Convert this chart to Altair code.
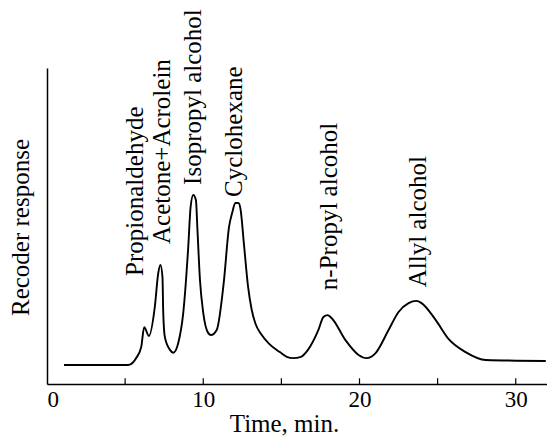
import altair as alt
import pandas as pd

# Chromatogram trace (time in min, response in arbitrary units 0-100)
time = [1.09, 5.20, 5.50, 5.68, 6.03, 6.22, 6.52, 6.90, 7.12, 7.26, 7.39, 7.44, 7.54,
        7.87, 8.08, 8.40, 8.72, 9.04, 9.19, 9.36, 9.53, 9.63, 9.79, 10.00, 10.32, 10.49,
        10.86, 11.31, 11.65, 11.87, 12.05, 12.25, 12.38, 12.62, 12.87, 13.10, 13.35,
        13.70, 14.20, 14.90, 15.35, 15.75, 16.25, 16.70, 17.37, 17.69, 17.95, 18.21, 19.10,
        19.94, 20.45, 21.03, 21.86, 22.50, 23.14, 23.65, 23.97, 24.87, 25.71, 26.79, 28.08,
        31.92]
response = [6.0, 6.0, 6.8, 8.0, 11.7, 18.0, 15.2, 24.4, 35.1, 37.7, 33.9, 22.5, 14.9,
            10.8, 9.9, 13.0, 22.5, 43.4, 56.0, 59.8, 58.2, 48.7, 32.9, 22.5, 16.1, 15.5,
            17.1, 32.0, 49.7, 54.5, 57.3, 57.3, 55.5, 43.4, 30.7, 23.5, 19.0,
            15.8, 12.8, 10.1, 8.6, 8.2, 8.6, 10.8, 17.1, 21.2, 21.8, 20.9, 13.9,
            9.2, 8.2, 9.8, 17.1, 22.8, 25.6, 26.3, 25.6, 20.3, 14.2, 10.1, 7.6,
            7.3]

peak_names = ["Propionaldehyde", "Acetone+Acrolein", "Isopropyl alcohol", "Cyclohexane",
              "n-Propyl alcohol", "Allyl alcohol"]
peak_t = [5.62, 7.34, 9.36, 11.98, 18.05, 23.75]
peak_r = [34.2, 44.3, 63.0, 59.2, 29.7, 30.6]

tick_vals = [5, 10, 15, 20, 25, 30]
label_vals = [0, 10, 20, 30]

FONT = "Liberation Serif"

df = pd.DataFrame({"t": time, "r": response})
labels = pd.DataFrame({"name": peak_names, "t": peak_t, "r": peak_r})
ticks = pd.DataFrame({"t": tick_vals, "y0": [0] * len(tick_vals), "y1": [1.8] * len(tick_vals)})

xscale = alt.Scale(domain=[0, 32], nice=False, zero=False)
yscale = alt.Scale(domain=[0, 100], nice=False)

curve = alt.Chart(df).mark_line(color="black", strokeWidth=1.9, interpolate="monotone").encode(
    x=alt.X("t:Q", scale=xscale,
            axis=alt.Axis(values=label_vals, tickSize=0, grid=False, title="Time, min.",
                          domainColor="black", domainWidth=1.5, labelFont=FONT, labelFontSize=23,
                          labelColor="black", labelPadding=4, titleFont=FONT, titleFontSize=25,
                          titleFontWeight="normal", titleColor="black", titleX=237, titleY=39,
                          titleAlign="center", titleBaseline="middle")),
    y=alt.Y("r:Q", scale=yscale,
            axis=alt.Axis(labels=False, ticks=False, grid=False, title="Recoder response",
                          domainColor="black", domainWidth=1.5, titleFont=FONT, titleFontSize=25,
                          titleFontWeight="normal", titleColor="black", titleAngle=270,
                          titleBaseline="middle", titleAlign="center", titleX=-27, titleY=159)),
)

tickmarks = alt.Chart(ticks).mark_rule(color="black", strokeWidth=1.2).encode(
    x=alt.X("t:Q", scale=xscale), y=alt.Y("y0:Q", scale=yscale), y2="y1:Q"
)

text = alt.Chart(labels).mark_text(angle=270, align="left", baseline="middle", font=FONT,
                                   fontSize=25, color="black").encode(
    x=alt.X("t:Q", scale=xscale), y=alt.Y("r:Q", scale=yscale), text="name:N"
)

chart = alt.layer(curve, tickmarks, text).properties(
    width=500, height=316,
    autosize=alt.AutoSizeParams(type="none"),
    padding={"left": 47, "top": 68, "right": 0, "bottom": 55},
    background="white",
).configure_view(stroke=None)

chart.save("out.html", embed_options={"renderer": "svg", "actions": False})
